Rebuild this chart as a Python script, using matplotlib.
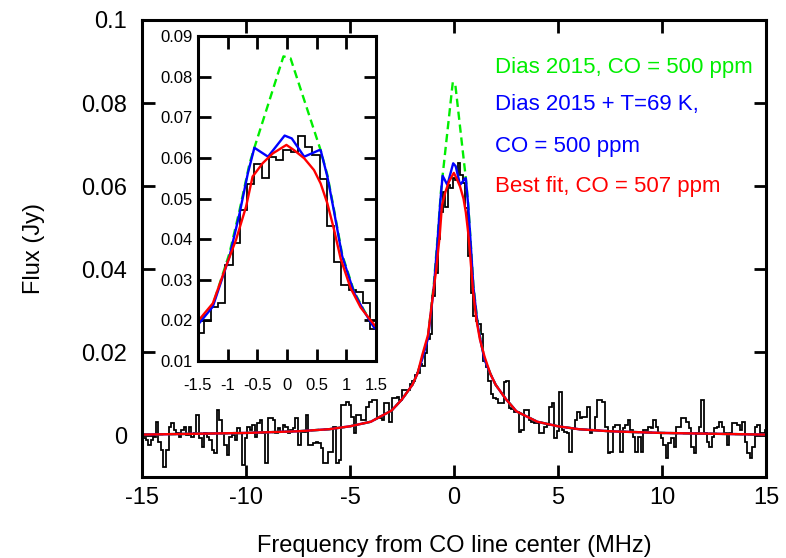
import numpy as np
import matplotlib.pyplot as plt

plt.rcParams['font.family'] = ['Liberation Sans', 'DejaVu Sans']
plt.rcParams['axes.unicode_minus'] = False

# spectrum: 0.122 MHz channels from -15 to +15 MHz
chan_width = 0.122
first_chan = -15.006

flux_low = [
    0.0005, -0.0007, -0.0011, -0.0023, -0.0011, -0.0003, 0.0033, -0.0015, -0.0035, -0.0075,
    -0.0035, 0.0021, 0.0029, 0.0013, 0.0005, -0.0003, 0.0013, 0.0021, 0.0001, 0.0021,
    -0.0003, 0.0005, 0.0049, -0.0007, -0.0027, 0.0005, -0.0003, -0.0011, -0.0035, -0.0043,
    0.0061, 0.0037, 0.0005, -0.0023, -0.0047, -0.0003, 0.0001, -0.0011, 0.0017, 0.0005,
    -0.0071, -0.0007, 0.0021, 0.0013, 0.0025, -0.0003, 0.0029, 0.0037, 0.0005, -0.0067,
    0.0041, 0.0041, 0.0037, 0.0005, 0.0017, 0.0009, 0.0025, 0.0021, 0.0005, 0.0013,
    0.0017, 0.0041, -0.0023, 0.0009, 0.0009, 0.0049, -0.0023, -0.0023, -0.0019, -0.0015,
    -0.0019, -0.0031, -0.0067, -0.0067, -0.0039, -0.0039, 0.0021, -0.0067, -0.0060, 0.0073,
    0.0073, 0.0081, 0.0073, 0.0045, 0.0005, 0.0049, 0.0049, 0.0037, 0.0037, 0.0069,
    0.0081, 0.0085, 0.0085, 0.0045, 0.0041, 0.0037, 0.0077, 0.0077, 0.0033, 0.0089,
    0.0089, 0.0093, 0.0085, 0.0109, 0.0109, 0.0109, 0.0125, 0.0130, 0.0145, 0.0150, 0.0172,
]
flux_core = [
    0.0168, 0.0199, 0.0232, 0.0244, 0.0336, 0.0390, 0.0472, 0.0537, 0.0586, 0.0550,
    0.0603, 0.0596, 0.0619, 0.0615, 0.0655, 0.0626, 0.0607, 0.0547, 0.0432, 0.0343,
    0.0287, 0.0276, 0.0269, 0.0244, 0.0180,
]
flux_high = [
    0.0165, 0.0130, 0.0100, 0.0090, 0.0088, 0.0077, 0.0077, 0.0128, 0.0130, 0.0065,
    0.0063, 0.0057, 0.0057, 0.0009, 0.0013, 0.0061, 0.0061, 0.0037, 0.0033, 0.0029,
    0.0029, 0.0005, 0.0005, 0.0021, 0.0025, 0.0069, 0.0077, -0.0007, 0.0010, 0.0105,
    0.0013, 0.0009, 0.0005, -0.0039, 0.0015, 0.0037, 0.0057, 0.0041, 0.0045, 0.0045,
    0.0069, 0.0005, 0.0013, 0.0045, 0.0085, 0.0085, 0.0081, 0.0021, -0.0043,
    -0.0039, 0.0021, 0.0025, 0.0025, -0.0039, 0.0017, 0.0025, 0.0037, 0.0013, -0.0003,
    -0.0039, -0.0003, -0.0039, 0.0013, 0.0013, 0.0021, 0.0017, 0.0037, 0.0021, 0.0005,
    -0.0007, -0.0023, -0.0055, -0.0019, -0.0007, -0.0027, 0.0021, 0.0021, 0.0041, 0.0041,
    0.0033, 0.0017, -0.0027, -0.0043, 0.0005, 0.0021, 0.0085, 0.0005, -0.0015, -0.0027,
    -0.0003, 0.0017, 0.0021, 0.0033, 0.0021, 0.0005, -0.0023, 0.0005, 0.0029, 0.0029,
    0.0025, 0.0013, 0.0033, -0.0015, -0.0043, -0.0055, -0.0027, 0.0021, 0.0025, 0.0005,
    0.0005, 0.0013,
]

# model curves
wing_left_x = [-15, -12.5, -10, -7.5, -6, -5, -4, -3, -2.5, -2.0, -1.75]
wing_left_y = [0.0002, 0.0004, 0.0006, 0.0010, 0.0015, 0.0022, 0.0033, 0.0060, 0.0087, 0.0122, 0.0150]
wing_right_x = [1.75, 2.0, 2.5, 3, 4, 5, 6, 7.5, 10, 12.5, 15]
wing_right_y = [0.0148, 0.0122, 0.0087, 0.0058, 0.0033, 0.0022, 0.0015, 0.0010, 0.0006, 0.0004, 0.0002]

fit_x = [-1.53, -1.25, -1.03, -0.86, -0.69, -0.58, -0.41, -0.24, -0.01, 0.12, 0.29,
         0.455, 0.567, 0.68, 0.79, 0.904, 1.07, 1.24, 1.47]
fit_y = [0.0193, 0.0242, 0.0332, 0.0398, 0.0480, 0.0554, 0.0587, 0.0611, 0.0632, 0.0619, 0.0599,
         0.0570, 0.0537, 0.0488, 0.0425, 0.0352, 0.0280, 0.0232, 0.0189]

t69_x = [-1.53, -1.25, -0.97, -0.80, -0.66, -0.55, -0.32, -0.04, 0.08, 0.29, 0.54,
         0.567, 0.68, 0.79, 0.93, 1.13, 1.30, 1.47]
t69_y = [0.0184, 0.0234, 0.0357, 0.0463, 0.0562, 0.0625, 0.0603, 0.0655, 0.0648, 0.0603, 0.0619,
         0.0619, 0.0554, 0.0470, 0.0358, 0.0268, 0.0222, 0.0182]

dias_x = [-1.53, -1.25, -0.97, -0.80, -0.63, -0.55, -0.06, 0.06, 0.56, 0.68, 0.79, 0.93,
          1.13, 1.30, 1.47]
dias_y = [0.0186, 0.0238, 0.0365, 0.0471, 0.0587, 0.0625, 0.0850, 0.0845, 0.0622, 0.0558,
          0.0474, 0.0362, 0.0271, 0.0224, 0.0183]

legend_labels = ["Dias 2015, CO = 500 ppm", "Dias 2015 + T=69 K,",
                 "CO = 500 ppm", "Best fit, CO = 507 ppm"]
legend_colors = ['#00ee00', '#0000ff', '#0000ff', '#ff0000']

flux = np.array(flux_low + flux_core + flux_high)
centers = first_chan + chan_width * np.arange(len(flux))
edges = np.append(centers - chan_width / 2, centers[-1] + chan_width / 2)


def full_curve(core_x, core_y):
    return wing_left_x + core_x + wing_right_x, wing_left_y + core_y + wing_right_y


def draw(ax, lw):
    ax.stairs(flux, edges, color='black', lw=lw * 0.75)
    gx, gy = full_curve(dias_x, dias_y)
    ax.plot(gx, gy, color='#00ee00', lw=lw, dashes=(3.5, 2))
    bx, by = full_curve(t69_x, t69_y)
    ax.plot(bx, by, color='#0000ff', lw=lw)
    rx, ry = full_curve(fit_x, fit_y)
    ax.plot(rx, ry, color='#ff0000', lw=lw)


def style(ax, size, length, xpad, ypad):
    for s in ax.spines.values():
        s.set_linewidth(2.2)
    ax.tick_params(direction='in', top=True, right=True, length=length, width=2,
                   labelsize=size)
    ax.tick_params(axis='x', pad=xpad)
    ax.tick_params(axis='y', pad=ypad)
    ax.yaxis.set_major_formatter(lambda v, p: '%g' % round(v, 4))
    ax.xaxis.set_major_formatter(lambda v, p: '%g' % round(v, 4))


fig = plt.figure(figsize=(7.86, 5.58), dpi=100)
ax = fig.add_axes([0.1807, 0.1452, 0.7939, 0.8190])
draw(ax, 1.7)
ax.set_xlim(-15, 15)
ax.set_ylim(-0.01, 0.1)
ax.set_xticks([-15, -10, -5, 0, 5, 10, 15])
ax.set_yticks([0, 0.02, 0.04, 0.06, 0.08, 0.1])
style(ax, 17, 9, 7, 11)
ax.set_xlabel("Frequency from CO line center (MHz)", fontsize=17, labelpad=19)
ax.set_ylabel("Flux (Jy)", fontsize=17, labelpad=26)

for i, (lab, col) in enumerate(zip(legend_labels, legend_colors)):
    ax.text(0.5657, [0.895, 0.816, 0.724, 0.635][i], lab, color=col, fontsize=16,
            va='center', ha='left', transform=ax.transAxes)

ins = fig.add_axes([0.2519, 0.3530, 0.2265, 0.5824])
draw(ins, 1.7)
ins.set_xlim(-1.5, 1.5)
ins.set_ylim(0.01, 0.09)
ins.set_xticks([-1.5, -1, -0.5, 0, 0.5, 1, 1.5])
ins.set_yticks([0.01, 0.02, 0.03, 0.04, 0.05, 0.06, 0.07, 0.08, 0.09])
style(ins, 12, 9, 12, 4)

fig.savefig('out.png', dpi=100)
